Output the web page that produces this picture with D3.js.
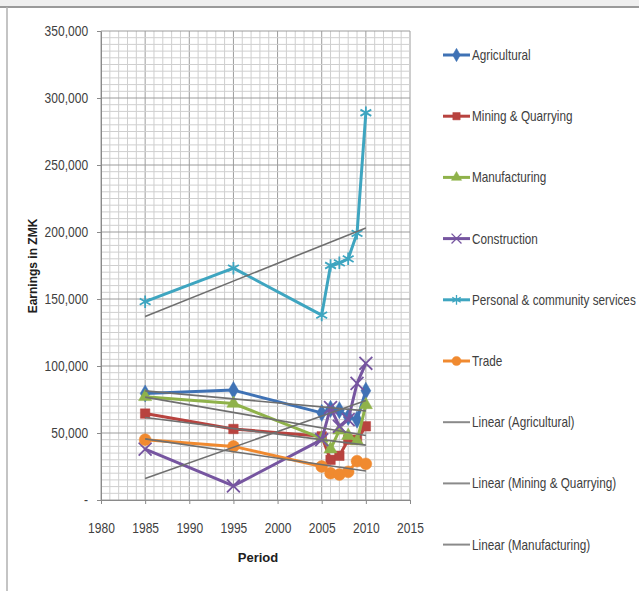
<!DOCTYPE html>
<html>
<head>
<meta charset="utf-8">
<script src="https://cdn.jsdelivr.net/npm/d3@7"></script>
<style>
  body { margin: 0; background: #fff; }
  text { font-family: "Liberation Sans", Arial, sans-serif; fill: #404040; }
</style>
</head>
<body>
<svg id="chart"></svg>
<script>
// earnings in ZMK per sector
const years = [1985, 1995, 2005, 2006, 2007, 2008, 2009, 2010];
const agricultural = [79500, 82000, 65000, 68000, 67000, 62000, 60000, 81500];
const mining = [64500, 53000, 47500, 30000, 33000, 45000, 45000, 55000];
const manufacturing = [77000, 72000, 46000, 38000, 52000, 48000, 44000, 71000];
const construction = [38000, 10500, 45000, 69000, 55000, 60000, 87000, 102000];
const personal = [148000, 173000, 138000, 175000, 177000, 180000, 199000, 289000];
const trade = [45000, 40000, 25000, 20000, 19000, 21000, 29000, 27000];

const seriesNames = ['Agricultural', 'Mining & Quarrying', 'Manufacturing', 'Construction',
  'Personal & community services', 'Trade'];
const seriesColors = ['#3f72b5', '#b8433f', '#8fb24a', '#7655a0', '#3ea5c0', '#f08a30'];
const trendNames = ['Linear (Agricultural)', 'Linear (Mining & Quarrying)', 'Linear (Manufacturing)'];
const xTicks = [1980, 1985, 1990, 1995, 2000, 2005, 2010, 2015];
const yTicks = [0, 50000, 100000, 150000, 200000, 250000, 300000, 350000];

const W = 639, H = 591;
const PLOT = { left: 101, right: 410, top: 31, bottom: 500 };
const TREND_COLOR = '#6f6f6f';
const NARROW = 'scale(0.86,1)'; // the original font is a condensed one
const LEGEND_NARROW = 0.84;

const svg = d3.select('#chart').attr('width', W).attr('height', H);

const x = d3.scaleLinear([1980, 2015], [PLOT.left, PLOT.right]);
const y = d3.scaleLinear([0, 350000], [PLOT.bottom, PLOT.top]);

const markers = [
  { type: d3.symbolDiamond, size: 85, fill: true },
  { type: d3.symbolSquare, size: 90, fill: true },
  { type: d3.symbolTriangle, size: 75, fill: true },
  { type: d3.symbolTimes, size: 110, fill: false },
  { type: d3.symbolAsterisk, size: 110, fill: false },
  { type: d3.symbolCircle, size: 110, fill: true },
];

const data = [agricultural, mining, manufacturing, construction, personal, trade].map((vals, i) =>
  Object({
    name: seriesNames[i],
    color: seriesColors[i],
    marker: markers[i],
    values: years.map((yr, j) => ({ year: yr, value: vals[j] })),
  }),
);

// least squares fit, like the Excel "Linear" trendline
const linearFit = (values) => {
  const mx = d3.mean(values, (d) => d.year);
  const my = d3.mean(values, (d) => d.value);
  const sxy = d3.sum(values, (d) => (d.year - mx) * (d.value - my));
  const sxx = d3.sum(values, (d) => (d.year - mx) ** 2);
  const slope = sxy / sxx;
  const x0 = d3.min(values, (d) => d.year), x1 = d3.max(values, (d) => d.year);
  return [
    { year: x0, value: my + slope * (x0 - mx) },
    { year: x1, value: my + slope * (x1 - mx) },
  ];
};

// frame
svg.append('rect').attr('x', 0).attr('y', 0).attr('width', W).attr('height', 6).attr('fill', '#efefef');
svg.append('line').attr('x1', 0).attr('x2', W).attr('y1', 7).attr('y2', 7).attr('stroke', '#9a9a9a').attr('stroke-width', 2);
svg.append('line').attr('x1', 7).attr('x2', 7).attr('y1', 7).attr('y2', H).attr('stroke', '#b0b0b0').attr('stroke-width', 1.5);

// gridlines
const grid = svg.append('g');
grid.selectAll('.vminor').data(d3.range(1980, 2016, 1)).join('line')
  .attr('x1', (d) => x(d)).attr('x2', (d) => x(d)).attr('y1', PLOT.top).attr('y2', PLOT.bottom)
  .attr('stroke', (d) => (d % 5 === 0 ? '#9c9c9c' : '#cfcfcf')).attr('stroke-width', 1);
grid.selectAll('.hminor').data(d3.range(0, 350001, 5000)).join('line')
  .attr('x1', PLOT.left).attr('x2', PLOT.right).attr('y1', (d) => y(d)).attr('y2', (d) => y(d))
  .attr('stroke', (d) => (d % 50000 === 0 ? '#9c9c9c' : '#cfcfcf')).attr('stroke-width', 1);

// axes
const xAxis = d3.axisBottom(x).tickValues(xTicks).tickFormat(d3.format('d')).tickSize(4).tickSizeOuter(0);
const yAxis = d3.axisLeft(y).tickValues(yTicks)
  .tickFormat((d) => (d === 0 ? '-' : d3.format(',')(d))).tickSize(4).tickSizeOuter(0);

const gx = svg.append('g').attr('transform', `translate(0,${PLOT.bottom})`).call(xAxis);
gx.select('.domain').attr('stroke', '#8a8a8a');
gx.selectAll('.tick line').attr('stroke', '#8a8a8a');
gx.selectAll('.tick text').attr('y', 18).attr('dy', '1.05em').attr('font-size', 14)
  .attr('transform', NARROW).style('fill', '#404040');

const gy = svg.append('g').attr('transform', `translate(${PLOT.left},0)`).call(yAxis);
gy.select('.domain').attr('stroke', '#8a8a8a');
gy.selectAll('.tick line').attr('stroke', '#8a8a8a');
gy.selectAll('.tick text').attr('x', -15).attr('font-size', 14)
  .attr('transform', NARROW).style('fill', '#404040');

// axis titles
svg.append('text').attr('x', 258).attr('y', 562).attr('text-anchor', 'middle')
  .style('font-weight', 'bold').style('fill', '#202020').attr('font-size', 13).text('Period');
svg.append('text').attr('transform', 'translate(37,266) rotate(-90)').attr('text-anchor', 'middle')
  .style('font-weight', 'bold').style('fill', '#202020').attr('font-size', 12).text('Earnings in ZMK');

// series
const line = d3.line().x((d) => x(d.year)).y((d) => y(d.value));
const symbolPath = (m, scale) => d3.symbol(m.type, m.size * scale)();

const gs = svg.append('g');
data.forEach((s) => {
  gs.append('path').datum(s.values).attr('d', line)
    .attr('fill', 'none').attr('stroke', s.color).attr('stroke-width', 3).attr('stroke-linejoin', 'round');
  gs.selectAll(null).data(s.values).join('path')
    .attr('transform', (d) => `translate(${x(d.year)},${y(d.value)})`)
    .attr('d', symbolPath(s.marker, 1))
    .attr('fill', s.marker.fill ? s.color : 'none')
    .attr('stroke', s.color).attr('stroke-width', s.marker.fill ? 0.5 : 1.8);
});

// trendlines on top
data.forEach((s) => {
  gs.append('path').datum(linearFit(s.values)).attr('d', line)
    .attr('fill', 'none').attr('stroke', TREND_COLOR).attr('stroke-width', 1.6);
});

// legend
const legendItems = data
  .map((s) => ({ name: s.name, color: s.color, marker: s.marker, width: 3 }))
  .concat(trendNames.map((n) => ({ name: n, color: '#8a8a8a', marker: null, width: 2 })));

const legend = svg.append('g').attr('transform', 'translate(443,55)');
const item = legend.selectAll('g').data(legendItems).join('g')
  .attr('transform', (d, i) => `translate(0,${i * 61.2})`);
item.append('line').attr('x1', 0).attr('x2', 27).attr('y1', 0).attr('y2', 0)
  .attr('stroke', (d) => d.color).attr('stroke-width', (d) => d.width);
item.filter((d) => d.marker).append('path')
  .attr('transform', 'translate(13.5,0)')
  .attr('d', (d) => symbolPath(d.marker, 0.6))
  .attr('fill', (d) => (d.marker.fill ? d.color : 'none'))
  .attr('stroke', (d) => d.color).attr('stroke-width', (d) => (d.marker.fill ? 0.5 : 1.3));
item.append('text').attr('x', 29 / LEGEND_NARROW).attr('dy', '0.35em').attr('font-size', 14)
  .attr('transform', `scale(${LEGEND_NARROW},1)`).text((d) => d.name);
</script>
</body>
</html>
